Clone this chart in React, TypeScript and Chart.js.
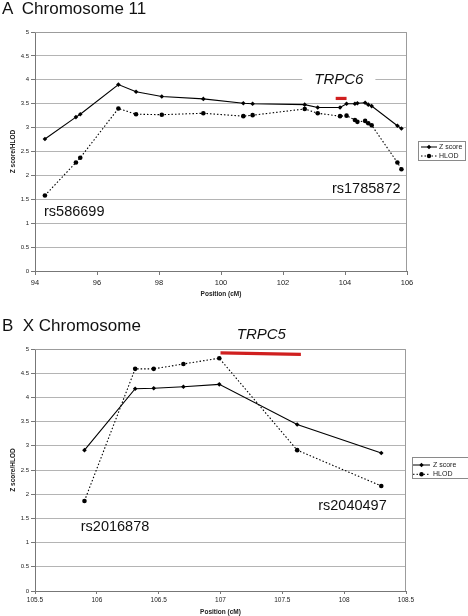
import React, { useEffect, useRef } from 'react';
import { Chart, registerables } from 'chart.js';

Chart.register(...registerables);

const FONT = '"Liberation Sans", Arial, Helvetica, sans-serif';

// ---------- Panel A: Chromosome 11 ----------
const chr11Positions = [94.32, 95.32, 95.46, 96.69, 97.26, 98.09, 99.43, 100.72, 101.02, 102.7, 103.12, 103.84, 104.05, 104.32, 104.4, 104.65, 104.75, 104.86, 105.69, 105.82];
const chr11ZScore = [2.76, 3.22, 3.28, 3.9, 3.75, 3.65, 3.6, 3.51, 3.5, 3.48, 3.42, 3.42, 3.5, 3.5, 3.51, 3.52, 3.48, 3.45, 3.04, 2.98];
const chr11HLOD = [1.58, 2.27, 2.37, 3.4, 3.28, 3.27, 3.3, 3.24, 3.26, 3.39, 3.3, 3.24, 3.25, 3.16, 3.12, 3.14, 3.09, 3.05, 2.27, 2.13];
const trpc6Span = [103.7, 104.05];
const trpc6Level = [3.61, 3.61];
const chr11XRange = [94, 106, 2];

// ---------- Panel B: X Chromosome ----------
const chrXPositions = [105.9, 106.31, 106.46, 106.7, 106.99, 107.62, 108.3];
const chrXZScore = [2.91, 4.18, 4.19, 4.22, 4.27, 3.44, 2.85];
const chrXHLOD = [1.86, 4.59, 4.59, 4.69, 4.81, 2.91, 2.17];
const trpc5Span = [107.0, 107.65];
const trpc5Level = [4.92, 4.89];
const chrXXRange = [105.5, 108.5, 0.5];

const yRange = [0, 5, 0.5];
const seriesNames = ['Z score', 'HLOD'];

const toXY = (xs: number[], ys: number[]) => xs.map((x, i) => ({ x, y: ys[i] }));
const plainTick = (v: any) => String(Math.round(Number(v) * 100) / 100);

const decorPlugin = {
  id: 'decor',
  beforeDatasetsDraw(chart: any, _a: any, opts: any) {
    const { ctx, chartArea: a, scales } = chart;
    ctx.save();
    ctx.strokeStyle = '#9c9c9c';
    ctx.lineWidth = 1;
    ctx.beginPath();
    ctx.moveTo(a.left, Math.round(a.top) + 0.5);
    ctx.lineTo(Math.round(a.right) - 0.5, Math.round(a.top) + 0.5);
    ctx.lineTo(Math.round(a.right) - 0.5, a.bottom);
    ctx.stroke();
    for (const lab of opts.labels || []) {
      const px = scales.x.getPixelForValue(lab.x);
      const py = scales.y.getPixelForValue(lab.y);
      ctx.font = `${lab.italic ? 'italic ' : ''}${lab.size}px ${FONT}`;
      ctx.textBaseline = 'middle';
      ctx.textAlign = lab.align;
      if (lab.bg) {
        const w = ctx.measureText(lab.text).width + lab.bg * 2;
        let left = px - w / 2;
        if (lab.align === 'left') left = px - lab.bg;
        ctx.fillStyle = '#ffffff';
        ctx.fillRect(left, py - 8, w, 16);
      }
      ctx.fillStyle = '#111111';
      ctx.fillText(lab.text, px, py);
    }
    ctx.restore();
  },
  afterDraw(chart: any, _a: any, opts: any) {
    const L = opts.legend;
    if (!L) return;
    const { ctx } = chart;
    ctx.save();
    ctx.fillStyle = '#ffffff';
    ctx.fillRect(L.x, L.y, L.w, L.h);
    ctx.strokeStyle = '#8a8a8a';
    ctx.lineWidth = 1;
    ctx.strokeRect(L.x + 0.5, L.y + 0.5, L.w, L.h);
    const items = chart.data.datasets.filter((d: any) => d.inLegend);
    items.forEach((ds: any, i: number) => {
      const y = L.y + L.rowTop + i * L.rowGap;
      ctx.strokeStyle = '#000';
      ctx.lineWidth = 1;
      ctx.setLineDash(ds.borderDash || []);
      ctx.beginPath();
      ctx.moveTo(L.x + L.lineFrom, y);
      ctx.lineTo(L.x + L.lineTo, y);
      ctx.stroke();
      ctx.setLineDash([]);
      const mx = L.x + (L.lineFrom + L.lineTo) / 2;
      ctx.fillStyle = '#000';
      ctx.beginPath();
      if (ds.pointStyle === 'rectRot') {
        const r = 2.2;
        ctx.moveTo(mx, y - r);
        ctx.lineTo(mx + r, y);
        ctx.lineTo(mx, y + r);
        ctx.lineTo(mx - r, y);
        ctx.closePath();
      } else {
        ctx.arc(mx, y, 2.2, 0, Math.PI * 2);
      }
      ctx.fill();
      ctx.font = `${L.font}px ${FONT}`;
      ctx.textBaseline = 'middle';
      ctx.textAlign = 'left';
      ctx.fillStyle = '#222';
      ctx.fillText(ds.label, L.x + L.textX, y);
    });
    ctx.restore();
  },
};

function buildConfig(p: any) {
  return {
    type: 'line',
    data: {
      datasets: [
        {
          label: seriesNames[0],
          inLegend: true,
          data: toXY(p.xs, p.z),
          borderColor: '#000',
          backgroundColor: '#000',
          borderWidth: 1.1,
          pointStyle: 'rectRot',
          pointRadius: 2.3,
          pointBackgroundColor: '#000',
          pointBorderWidth: 0,
          tension: 0,
        },
        {
          label: seriesNames[1],
          inLegend: true,
          data: toXY(p.xs, p.hlod),
          borderColor: '#000',
          backgroundColor: '#000',
          borderWidth: 1.1,
          borderDash: [1.5, 2],
          pointStyle: 'circle',
          pointRadius: 2.3,
          pointBackgroundColor: '#000',
          pointBorderWidth: 0,
          tension: 0,
        },
        {
          label: p.gene,
          inLegend: false,
          data: toXY(p.geneSpan, p.geneLevel),
          borderColor: '#d01f1f',
          borderWidth: 3.2,
          borderCapStyle: 'butt',
          pointRadius: 0,
        },
      ],
    },
    options: {
      animation: false,
      responsive: false,
      devicePixelRatio: 1,
      layout: { padding: { left: 0, right: p.padRight, top: p.padTop, bottom: 0 }, autoPadding: false },
      plugins: {
        legend: { display: false },
        tooltip: { enabled: false },
        decor: { labels: p.labels, legend: p.legend },
      },
      scales: {
        x: {
          type: 'linear',
          min: p.xRange[0],
          max: p.xRange[1],
          afterFit: (s: any) => { s.height = p.xAxisH; },
          ticks: { stepSize: p.xRange[2], callback: plainTick, color: '#222', padding: p.xTickPad, font: { family: FONT, size: p.xTickFont }, maxRotation: 0, autoSkip: false },
          grid: { drawOnChartArea: false, drawTicks: true, tickLength: p.xTickLen, tickColor: '#777', color: '#777' },
          border: { display: true, color: '#777', width: 1 },
          title: { display: true, text: 'Position (cM)', color: '#222', font: { family: FONT, size: 6.5, weight: 'bold' }, padding: { top: 0, bottom: p.xTitlePad } },
        },
        y: {
          type: 'linear',
          min: yRange[0],
          max: yRange[1],
          afterFit: (s: any) => { s.width = 35; },
          ticks: { stepSize: yRange[2], callback: plainTick, color: '#222', padding: 2, font: { family: FONT, size: 6 } },
          grid: { color: '#b4b4b4', lineWidth: 1, drawTicks: true, tickLength: 4, tickColor: '#777' },
          border: { display: true, color: '#777', width: 1 },
          title: { display: true, text: 'Z score/HLOD', color: '#222', font: { family: FONT, size: 6.5, weight: 'bold' }, padding: { top: 9, bottom: 0 } },
        },
      },
    },
    plugins: [decorPlugin],
  };
}

const panelA = {
  xs: chr11Positions, z: chr11ZScore, hlod: chr11HLOD,
  gene: 'TRPC6', geneSpan: trpc6Span, geneLevel: trpc6Level,
  xRange: chr11XRange,
  padTop: 32, padRight: 61, xAxisH: 37, xTickPad: 3, xTickLen: 4, xTickFont: 7.5, xTitlePad: 10,
  labels: [
    { text: 'TRPC6', x: 103.8, y: 4.0, align: 'center', italic: true, size: 15, bg: 12 },
    { text: 'rs586699', x: 94.29, y: 1.23, align: 'left', size: 14.5 },
    { text: 'rs1785872', x: 103.58, y: 1.72, align: 'left', size: 14.5 },
  ],
  legend: { x: 418, y: 141, w: 47, h: 19, rowTop: 6, rowGap: 9, lineFrom: 3, lineTo: 19, textX: 21, font: 7 },
};

const panelB = {
  xs: chrXPositions, z: chrXZScore, hlod: chrXHLOD,
  gene: 'TRPC5', geneSpan: trpc5Span, geneLevel: trpc5Level,
  xRange: chrXXRange,
  padTop: 41, padRight: 62, xAxisH: 25, xTickPad: 2, xTickLen: 3, xTickFont: 6.5, xTitlePad: 0,
  labels: [
    { text: 'TRPC5', x: 107.33, y: 5.3, align: 'center', italic: true, size: 15 },
    { text: 'rs2016878', x: 105.87, y: 1.33, align: 'left', size: 14.5 },
    { text: 'rs2040497', x: 107.79, y: 1.76, align: 'left', size: 14.5 },
  ],
  legend: { x: 412, y: 149, w: 56, h: 21, rowTop: 8, rowGap: 9.3, lineFrom: 1, lineTo: 18, textX: 21, font: 7 },
};

function Panel({ cfg, top, height }: { cfg: any; top: number; height: number }) {
  const ref = useRef<HTMLCanvasElement | null>(null);
  useEffect(() => {
    if (!ref.current) return;
    const chart = new Chart(ref.current, buildConfig(cfg) as any);
    return () => chart.destroy();
  }, [cfg]);
  return (
    <canvas
      ref={ref}
      width={468}
      height={height}
      style={{ position: 'absolute', left: 0, top, width: 468, height }}
    />
  );
}

const titleStyle: React.CSSProperties = {
  position: 'absolute',
  left: 2,
  fontFamily: FONT,
  fontSize: 17,
  lineHeight: '17px',
  whiteSpace: 'pre',
  color: '#111',
  margin: 0,
};

export default function App() {
  return (
    <div style={{ position: 'fixed', left: 0, top: 0, width: 468, height: 616, background: '#fff', overflow: 'hidden' }}>
      <Panel cfg={panelA} top={0} height={308} />
      <Panel cfg={panelB} top={308} height={308} />
      <div style={{ ...titleStyle, top: 0 }}>A  Chromosome 11</div>
      <div style={{ ...titleStyle, top: 317 }}>B  X Chromosome</div>
    </div>
  );
}
